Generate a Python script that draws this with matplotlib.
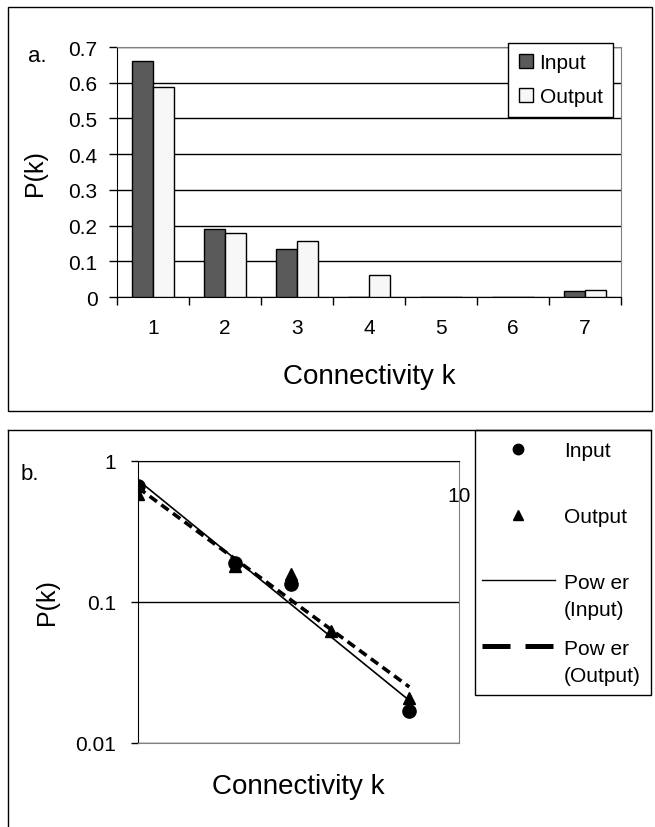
import numpy as np
import matplotlib
matplotlib.use('Agg')
import matplotlib.pyplot as plt
from matplotlib.lines import Line2D
from matplotlib.patches import Rectangle
from matplotlib.ticker import NullLocator

plt.rcParams['font.family'] = ['Liberation Sans', 'DejaVu Sans']

# values
k = [1, 2, 3, 4, 5, 6, 7]
p_input = [0.661, 0.19, 0.134, 0.0, 0.0, 0.0, 0.017]
p_output = [0.588, 0.179, 0.157, 0.062, 0.0, 0.0, 0.021]
y_ticks_a = [0, 0.1, 0.2, 0.3, 0.4, 0.5, 0.6, 0.7]
y_labels_a = ['0', '0.1', '0.2', '0.3', '0.4', '0.5', '0.6', '0.7']
y_ticks_b = [0.01, 0.1, 1]
y_labels_b = ['0.01', '0.1', '1']

W, H = 655, 828
fig = plt.figure(figsize=(W / 100, H / 100), dpi=100)


def fig_rect(x0, y0, x1, y1):
    # pixel box (top-left origin) -> figure fraction [l, b, w, h]
    return [x0 / W, 1 - y1 / H, (x1 - x0) / W, (y1 - y0) / H]


# outer frames
fig.add_artist(Rectangle((8 / W, 1 - 412 / H), 644 / W, 404 / H, transform=fig.transFigure,
                         fill=False, ec='black', lw=1))
fig.add_artist(Line2D([8 / W, 8 / W], [1 - 431 / H, 0], transform=fig.transFigure, color='black', lw=1))
fig.add_artist(Line2D([8 / W, 651 / W], [1 - 431 / H, 1 - 431 / H], transform=fig.transFigure,
                      color='black', lw=1))

# ---------- panel a : bars ----------
ax = fig.add_axes(fig_rect(117, 48, 621, 298))
x = np.array(k)
bw = 0.29
ax.bar(x - bw / 2, p_input, bw, color='#5a5a5a', edgecolor='black', lw=1, label='Input', zorder=3)
ax.bar(x + bw / 2, p_output, bw, color='#f7f7f7', edgecolor='black', lw=1, label='Output', zorder=3)
ax.set_xlim(0.5, 7.5)
ax.set_ylim(0, 0.7)
ax.set_yticks(y_ticks_a, labels=y_labels_a)
ax.set_xticks(x, labels=[str(v) for v in k])
ax.set_xticks(np.arange(0.5, 8, 1), minor=True)
ax.tick_params(axis='x', which='major', length=0, pad=15, labelsize=15)
ax.tick_params(axis='x', which='minor', length=6, width=1, direction='out')
ax.tick_params(axis='y', length=6, width=1, direction='out', pad=8, labelsize=15)
ax.yaxis.grid(True, color='black', lw=1, zorder=0)
ax.set_axisbelow(True)
for s in ['top', 'right']:
    ax.spines[s].set_color('#808080')
ax.set_ylabel('P(k)', fontsize=18)
ax.set_xlabel('Connectivity k', fontsize=20)
ax.yaxis.label.set_va('center')
ax.xaxis.label.set_va('center')
ax.yaxis.set_label_coords(-0.163, 0.5)
ax.xaxis.set_label_coords(0.5, -0.316)
leg = ax.legend(loc='upper right', bbox_to_anchor=(0.984, 1.016), fontsize=15, frameon=True,
                fancybox=False, edgecolor='black', framealpha=1, handlelength=0.7, handleheight=0.7,
                handletextpad=0.3, labelspacing=0.72, borderpad=0.5, borderaxespad=0)
leg.get_frame().set_linewidth(1)
fig.text(37 / W, 1 - 57 / H, 'a.', fontsize=16, ha='center', va='center')

# ---------- panel b : log-log ----------
ax2 = fig.add_axes(fig_rect(138, 462, 459, 744))
kk = np.array(k, dtype=float)
pi = np.array(p_input)
po = np.array(p_output)
mi = pi > 0
mo = po > 0

# power trendlines (least squares in log-log space, like Excel's "Power")
ci = np.polyfit(np.log10(kk[mi]), np.log10(pi[mi]), 1)
co = np.polyfit(np.log10(kk[mo]), np.log10(po[mo]), 1)
k_fit = np.array([kk[0], kk[-1]])
ax2.plot(k_fit, 10 ** np.polyval(ci, np.log10(k_fit)), color='black', lw=1.2, zorder=3)
ax2.plot(k_fit, 10 ** np.polyval(co, np.log10(k_fit)), color='black', lw=2.6,
         linestyle=(0, (2.5, 1.5)), zorder=3)
ax2.plot(kk[mo], po[mo], '^', color='black', ms=9, zorder=4)
ax2.plot(kk[mi], pi[mi], 'o', color='black', ms=9.5, zorder=5)

ax2.set_xscale('log')
ax2.set_yscale('log')
ax2.set_xlim(1, 10)
ax2.set_ylim(0.01, 1)
ax2.set_yticks(y_ticks_b, labels=y_labels_b)
ax2.yaxis.set_minor_locator(NullLocator())
ax2.xaxis.set_minor_locator(NullLocator())
ax2.xaxis.set_ticks_position('top')
ax2.set_xticks([10], labels=['10'])
ax2.tick_params(axis='x', length=0, pad=-32, labelsize=15)
ax2.tick_params(axis='y', length=5, width=1, direction='out', pad=11, labelsize=15)
ax2.yaxis.grid(True, color='black', lw=1, zorder=0)
ax2.set_axisbelow(True)
for s in ['bottom', 'right']:
    ax2.spines[s].set_color('#808080')
ax2.set_ylabel('P(k)', fontsize=18)
ax2.set_xlabel('Connectivity k', fontsize=20)
ax2.yaxis.label.set_va('center')
ax2.xaxis.label.set_va('center')
ax2.yaxis.set_label_coords(-0.282, 0.504)
ax2.xaxis.set_label_coords(0.5, -0.152)
fig.text(30 / W, 1 - 475 / H, 'b.', fontsize=16, ha='center', va='center')

handles = [Line2D([], [], marker='o', ls='none', color='black', ms=7.5),
           Line2D([], [], marker='^', ls='none', color='black', ms=7.5),
           Line2D([], [], color='black', lw=1),
           Line2D([], [], color='black', lw=3.6, dashes=(5.6, 3))]
labels = ['Input', 'Output', 'Pow er', 'Pow er']
leg2 = fig.legend(handles, labels, loc='upper left', bbox_to_anchor=(482 / W, 1 - 442 / H),
                  fontsize=15, frameon=False, handlelength=3.5, handletextpad=0.43,
                  labelspacing=2.25, borderpad=0, borderaxespad=0)
fig.add_artist(Rectangle((475 / W, 1 - 696 / H), 176 / W, 265 / H, transform=fig.transFigure,
                         fill=False, ec='black', lw=1))
lt = leg2.get_texts()
fig.canvas.draw()
for t, extra in [(lt[2], '(Input)'), (lt[3], '(Output)')]:
    fig.add_artist(plt.Annotation(extra, xy=(0, 0), xycoords=t, xytext=(0, -27),
                                  textcoords='offset pixels', ha='left', va='bottom', fontsize=15))

fig.savefig('out.png', dpi=100)
